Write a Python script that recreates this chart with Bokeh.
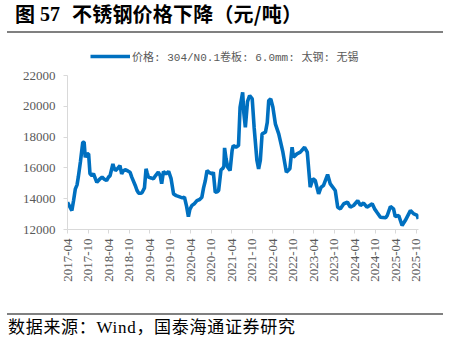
import numpy as np
import pandas as pd
from bokeh.plotting import figure
from bokeh.layouts import column
from bokeh.models import (ColumnDataSource, FixedTicker, DatetimeTickFormatter, Div,
                          Legend, LegendItem, Range1d)
from bokeh.embed import file_html
from bokeh.resources import INLINE

dates = ["2017-04-01", "2017-04-20", "2017-05-10", "2017-05-25", "2017-06-10", "2017-06-25",
         "2017-07-06", "2017-07-25", "2017-08-15", "2017-08-27", "2017-09-06", "2017-09-20",
         "2017-10-06", "2017-10-18", "2017-11-05", "2017-11-18", "2017-12-05", "2017-12-18",
         "2018-01-10", "2018-02-03", "2018-02-25", "2018-03-15", "2018-04-01", "2018-04-15",
         "2018-05-10", "2018-05-20", "2018-06-01", "2018-06-20", "2018-07-12", "2018-07-27",
         "2018-08-10", "2018-08-27", "2018-09-20", "2018-10-10", "2018-10-25", "2018-11-25",
         "2018-12-10", "2018-12-25", "2019-01-10", "2019-01-25", "2019-02-15", "2019-03-01",
         "2019-03-10", "2019-03-22", "2019-04-15", "2019-05-06", "2019-05-25", "2019-06-18",
         "2019-07-05", "2019-07-18", "2019-08-03", "2019-08-25", "2019-09-18", "2019-10-10",
         "2019-11-01", "2019-11-25", "2020-01-01", "2020-01-20", "2020-02-06", "2020-02-25",
         "2020-03-12", "2020-03-25", "2020-04-12", "2020-05-01", "2020-05-27", "2020-06-20",
         "2020-07-10", "2020-07-25", "2020-08-10", "2020-08-25", "2020-09-15", "2020-10-10",
         "2020-10-20", "2020-11-06", "2020-11-25", "2020-12-06", "2020-12-27", "2021-01-10",
         "2021-01-22", "2021-01-28", "2021-02-10", "2021-02-25", "2021-03-18", "2021-04-05",
         "2021-04-15", "2021-05-10", "2021-06-01", "2021-06-15", "2021-07-08", "2021-07-18",
         "2021-08-01", "2021-08-20", "2021-09-08", "2021-10-01", "2021-10-18", "2021-11-12",
         "2021-11-27", "2021-12-12", "2021-12-28", "2022-01-27", "2022-02-12", "2022-02-25",
         "2022-03-15", "2022-04-03", "2022-04-25", "2022-05-25", "2022-07-01", "2022-08-01",
         "2022-09-01", "2022-09-21", "2022-10-03", "2022-11-03", "2022-12-03", "2023-01-10",
         "2023-02-03", "2023-03-01", "2023-03-25", "2023-04-15", "2023-05-15", "2023-06-06",
         "2023-06-27", "2023-08-03", "2023-08-27", "2023-10-10", "2023-11-01", "2023-11-25",
         "2023-12-25", "2024-01-27", "2024-02-21", "2024-03-21", "2024-04-27", "2024-05-21",
         "2024-06-18", "2024-07-18", "2024-09-03", "2024-09-24", "2024-10-15", "2024-11-15",
         "2025-01-01", "2025-01-15", "2025-02-12", "2025-03-12", "2025-03-27", "2025-04-27",
         "2025-05-27", "2025-06-24", "2025-08-09", "2025-09-09", "2025-10-09", "2025-10-18"]

prices = [13770, 13500, 13230, 13880, 14640, 14900,
          15400, 16400, 17670, 17670, 16690, 16900,
          16910, 15630, 15500, 15630, 15300, 15070,
          15250, 15400, 15250, 15180, 15400, 15500,
          16260, 16000, 15830, 15950, 16150, 15610,
          15800, 15880, 15800, 15720, 15400, 14860,
          14550, 14360, 14350, 14400, 14700, 15940,
          15700, 15400, 15350, 15290, 15500, 15720,
          15500, 14970, 15770, 15600, 15770, 15300,
          14310, 14200, 14100, 14050, 14100, 13500,
          12840, 13300, 13560, 13650, 13880, 13950,
          14100, 14700, 15180, 15830, 15700, 15610,
          15720, 14420, 14450, 14530, 15870, 15950,
          16090, 17300, 16600, 16050, 15830, 17130,
          17450, 17350, 17450, 19940, 20910, 19600,
          18640, 20300, 20700, 20480, 18640, 16480,
          15940, 16480, 18210, 18320, 18960, 20370,
          20480, 19940, 18860, 18210, 17020, 15720,
          15940, 17340, 16690, 16910, 17020, 17340,
          17020, 14750, 15290, 15180, 14310, 14750,
          14850, 15570, 14960, 14530, 13450, 13340,
          13670, 13770, 13450, 13560, 13880, 13560,
          13720, 13450, 13670, 13340, 13120, 12800,
          12760, 12910, 13490, 13340, 12840, 12910,
          12260, 12580, 13230, 13010, 12910, 12690]

x_tick_labels = ["2017-04", "2017-10", "2018-04", "2018-10", "2019-04", "2019-10",
                 "2020-04", "2020-10", "2021-04", "2021-10", "2022-04", "2022-10",
                 "2023-04", "2023-10", "2024-04", "2024-10", "2025-04", "2025-10"]
y_ticks = [12000, 14000, 16000, 18000, 20000, 22000]

fig_label = "图"
fig_number = "57"
title_text = "不锈钢价格下降（元/吨）"
series_name = "价格: 304/N0.1卷板: 6.0mm: 太钢: 无锡"
source_text = "数据来源：Wind，国泰海通证券研究"

dt = pd.to_datetime(dates)
src = ColumnDataSource(dict(x=dt, y=prices))

# frame extends above the 22000 line so the legend can sit inside it
p = figure(width=449, height=270, x_axis_type="datetime", output_backend="svg",
           toolbar_location=None,
           x_range=Range1d(pd.Timestamp("2017-04-01"), pd.Timestamp("2025-10-20")),
           y_range=Range1d(12000, 24143),
           min_border_left=67, min_border_right=31, min_border_top=2, min_border_bottom=81,
           margin=0)
p.outline_line_color = None
p.xgrid.visible = False
p.ygrid.visible = False
p.background_fill_color = "white"
p.border_fill_color = "white"

r = p.line("x", "y", source=src, line_color="#0070C0", line_width=3.6)

tick_ms = [pd.Timestamp(t + "-01").value / 1e6 for t in x_tick_labels]
p.xaxis.ticker = FixedTicker(ticks=tick_ms)
fmt = "%Y-%m"
p.xaxis.formatter = DatetimeTickFormatter(months=fmt, days=fmt, years=fmt, hours=fmt,
                                          hourmin=fmt, minutes=fmt, minsec=fmt,
                                          seconds=fmt, milliseconds=fmt, microseconds=fmt)
p.xaxis.major_label_orientation = np.pi / 2
p.yaxis.ticker = FixedTicker(ticks=y_ticks)
p.yaxis.bounds = (y_ticks[0], y_ticks[-1])

for ax in (p.xaxis[0], p.yaxis[0]):
    ax.axis_line_color = "#d9d9d9"
    ax.major_tick_line_color = "#d9d9d9"
    ax.major_tick_in = 0
    ax.major_tick_out = 4
    ax.minor_tick_line_color = None
    ax.major_label_text_font = "Liberation Serif"
    ax.major_label_text_font_size = "13px"
    ax.major_label_text_color = "#595959"
p.xaxis.major_label_standoff = 5
p.yaxis.major_label_standoff = 8

legend = Legend(items=[LegendItem(label=series_name, renderers=[r])], location=(23, 165),
                glyph_width=40, glyph_height=14, label_height=14, padding=0, margin=0,
                border_line_color=None, background_fill_alpha=0, label_standoff=2,
                label_text_font="Liberation Mono, Noto Sans CJK SC",
                label_text_font_size="11px", label_text_color="#595959")
p.add_layout(legend)

cjk = "'Noto Sans CJK SC'"
serif = "'Liberation Serif'"
span = "position:absolute;top:2px;line-height:24px;font-size:20px;font-weight:bold;color:#000;white-space:nowrap;"
title_html = (
    '<div style="position:relative;width:449px;height:40px;">'
    f'<span style="{span}left:15px;font-family:{cjk};">{fig_label}</span>'
    f'<span style="{span}left:40px;font-family:{serif};">{fig_number}</span>'
    f'<span style="{span}left:72px;font-family:{cjk};letter-spacing:0.2px;">{title_text}</span>'
    '<div style="position:absolute;left:7px;top:31px;width:436px;height:2px;background:#808080;"></div>'
    '</div>'
)
title_div = Div(text=title_html, width=449, height=40, margin=0)

source_html = (
    '<div style="position:relative;width:449px;height:34px;">'
    '<div style="position:absolute;left:7px;top:3px;width:436px;height:2px;background:#808080;"></div>'
    f'<span style="position:absolute;left:8px;top:8px;line-height:20px;font-size:17px;'
    f'letter-spacing:0.7px;font-family:{serif},{cjk};color:#000;white-space:nowrap;">'
    f'{source_text}</span>'
    '</div>'
)
source_div = Div(text=source_html, width=449, height=34, margin=0)

layout = column(title_div, p, source_div, spacing=0, margin=0)

open("out.html", "w").write(file_html(layout, INLINE))
